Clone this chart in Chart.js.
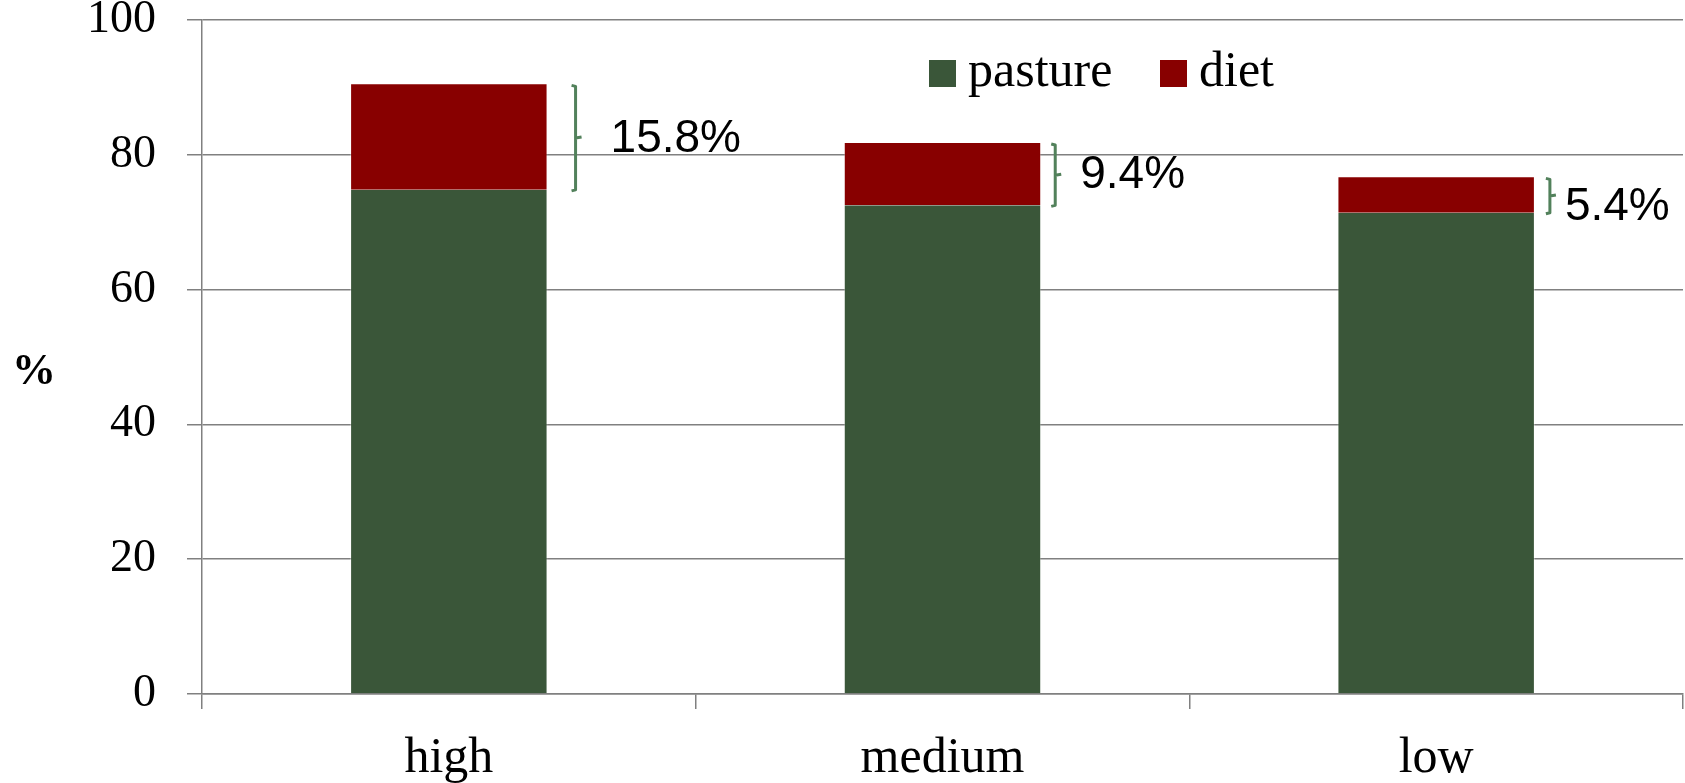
<!DOCTYPE html>
<html>
<head>
<meta charset="utf-8">
<script src="https://cdn.jsdelivr.net/npm/chart.js@4/dist/chart.umd.min.js"></script>
<style>
  html, body { margin: 0; padding: 0; background: #ffffff; }
  #wrap { width: 1685px; height: 783px; }
</style>
</head>
<body>
<div id="wrap"><canvas id="c" width="1685" height="783"></canvas></div>
<script>
// Share of intake by grazing level
const categories = ['high', 'medium', 'low'];
const pastureValues = [74.8, 72.5, 71.4];
const dietValues = [15.8, 9.4, 5.4];
const yTickValues = [0, 20, 40, 60, 80, 100];
const yAxisTitle = '%';

// Styling
const GREEN = '#3a5639';
const RED = '#880000';
const GRID = '#808080';
const BRACE = '#52815b';
const SERIF = '"Liberation Serif", "Times New Roman", serif';
const SANS = '"Liberation Sans", Arial, sans-serif';
const braceGap = [28, 14, 15];      // distance from bar edge to brace
const labelGap = [35, 25, 15];      // distance from brace to its label
const labelShift = [1, 0, 11];      // vertical nudge of each label
const legendX = [929, 1160];
const PLOT_TOP = 20;

const braces = {
  id: 'braces',
  afterDatasetsDraw(chart) {
    const ctx = chart.ctx;
    const y = chart.scales.y;
    const meta = chart.getDatasetMeta(1);
    ctx.save();
    meta.data.forEach((bar, i) => {
      const base = pastureValues[i];
      const top = base + dietValues[i];
      const y1 = y.getPixelForValue(top) + 2;
      const y2 = y.getPixelForValue(base) + 1;
      const ym = (y1 + y2) / 2;
      const x = bar.x + bar.width / 2 + braceGap[i];
      ctx.strokeStyle = BRACE;
      ctx.lineWidth = 3;
      ctx.lineJoin = 'round';
      ctx.beginPath();
      ctx.moveTo(x - 4, y1);
      ctx.lineTo(x, y1 + 1);
      ctx.lineTo(x, y2 - 1);
      ctx.lineTo(x - 4, y2);
      ctx.moveTo(x, ym);
      ctx.lineTo(x + 6, ym - 1);
      ctx.stroke();
      ctx.fillStyle = '#000000';
      ctx.font = '46px ' + SANS;
      ctx.textAlign = 'left';
      ctx.textBaseline = 'middle';
      ctx.fillText(dietValues[i].toFixed(1) + '%', x + labelGap[i], ym + labelShift[i]);
    });
    ctx.restore();
  }
};

// keep the plot area's top edge fixed regardless of label padding
const plotTop = {
  id: 'plotTop',
  afterLayout(chart) {
    const area = chart.chartArea;
    if (area.top === PLOT_TOP) return;
    const y = chart.scales.y;
    area.top = PLOT_TOP;
    area.height = area.bottom - area.top;
    y.top = PLOT_TOP;
    y.height = y.bottom - y.top;
    y.configure();
    y._gridLineItems = null;
    y._labelItems = null;
    y.generateTickLabels && y.generateTickLabels(y.ticks);
  }
};

const legendAndTitle = {
  id: 'legendAndTitle',
  afterDraw(chart) {
    const ctx = chart.ctx;
    ctx.save();
    ctx.font = '50px ' + SERIF;
    ctx.textBaseline = 'alphabetic';
    ctx.textAlign = 'left';
    chart.data.datasets.forEach((ds, i) => {
      const bx = legendX[i];
      ctx.fillStyle = ds.backgroundColor;
      ctx.fillRect(bx, 60, 27, 27);
      ctx.fillStyle = '#000000';
      ctx.fillText(ds.label, bx + 39, 86);
    });
    ctx.font = 'bold 44px ' + SERIF;
    ctx.textAlign = 'center';
    ctx.textBaseline = 'middle';
    ctx.fillText(yAxisTitle, 34, 373);
    ctx.restore();
  }
};

new Chart(document.getElementById('c'), {
  type: 'bar',
  data: {
    labels: categories,
    datasets: [
      { label: 'pasture', data: pastureValues, backgroundColor: GREEN,
        borderColor: 'rgba(255,255,255,0.35)', borderWidth: { right: 1, left: 1 } },
      { label: 'diet', data: dietValues, backgroundColor: RED,
        borderColor: 'rgba(255,255,255,0.35)', borderWidth: { top: 1, right: 1, left: 1 } }
    ]
  },
  options: {
    responsive: false,
    animation: false,
    devicePixelRatio: 1,
    layout: { padding: { top: 0, right: 2, left: 0, bottom: 0 } },
    barPercentage: 0.4,
    categoryPercentage: 1.0,
    plugins: { legend: { display: false }, tooltip: { enabled: false } },
    scales: {
      x: {
        stacked: true,
        offset: true,
        afterFit(s) { s.height = 89; },
        grid: { offset: true, drawOnChartArea: false, drawTicks: true, tickLength: 15, color: GRID, lineWidth: 1.5 },
        border: { display: true, color: GRID, width: 1.5 },
        ticks: { color: '#000000', padding: 20, font: { family: SERIF, size: 50 } }
      },
      y: {
        stacked: true,
        min: 0,
        max: 100,
        afterFit(s) { s.width = 202; },
        afterBuildTicks(s) { s.ticks = yTickValues.map(v => ({ value: v })); },
        grid: { color: GRID, lineWidth: 1.5, tickLength: 15, drawTicks: true },
        border: { display: true, color: GRID, width: 1.5 },
        ticks: { color: '#000000', padding: 31, font: { family: SERIF, size: 46 } }
      }
    }
  },
  plugins: [plotTop, braces, legendAndTitle]
});
</script>
</body>
</html>
